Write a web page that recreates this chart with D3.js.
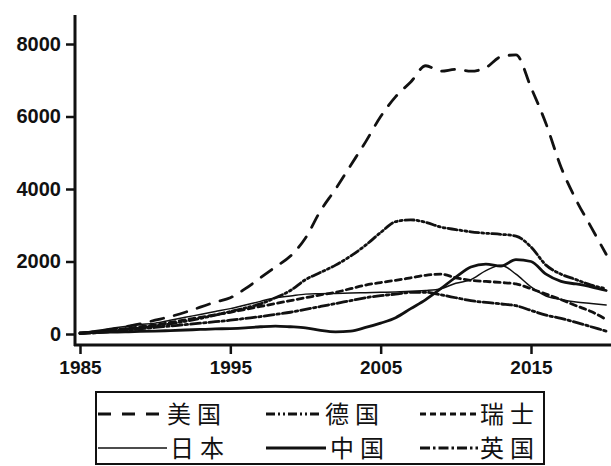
<!DOCTYPE html>
<html>
<head>
  <script src="https://d3js.org/d3.v7.min.js"></script>
  <style>
    body { margin: 0; background: #fff; overflow: hidden; }
    .tick text { font-family: "Liberation Sans", Arial, sans-serif; font-weight: bold; fill: #111; }
    .leg { font-family: "Noto Sans CJK SC", sans-serif; font-size: 24px; fill: #111; letter-spacing: 6px; }
  </style>
  <title>chart</title>
</head>
<body>
<script>
// years 1985 - 2020
const years = d3.range(1985, 2021);

const usa     = [30, 60, 120, 200, 280, 380, 480, 600, 740, 880, 1000, 1250, 1550, 1850, 2150, 2650, 3400, 4000, 4650, 5300, 6000, 6550, 6950, 7400, 7250, 7300, 7250, 7350, 7650, 7700, 6800, 5800, 4600, 3700, 2950, 2200];
const germany = [20, 50, 90, 130, 170, 220, 280, 350, 430, 520, 620, 720, 830, 1000, 1200, 1500, 1700, 1900, 2150, 2450, 2800, 3100, 3150, 3080, 2950, 2880, 2820, 2780, 2750, 2700, 2400, 1900, 1650, 1500, 1350, 1250];
const swiss   = [20, 60, 100, 150, 200, 250, 320, 390, 460, 530, 600, 680, 760, 840, 920, 1000, 1080, 1150, 1250, 1350, 1420, 1480, 1550, 1620, 1650, 1550, 1480, 1450, 1420, 1380, 1250, 1100, 950, 780, 620, 400];
const japan   = [30, 90, 150, 210, 260, 300, 380, 460, 540, 620, 700, 800, 900, 1000, 1050, 1100, 1110, 1120, 1130, 1140, 1150, 1160, 1180, 1200, 1250, 1400, 1500, 1750, 1900, 1650, 1300, 1050, 950, 880, 840, 800];
const china   = [30, 40, 50, 60, 70, 80, 95, 110, 125, 140, 150, 170, 200, 220, 200, 170, 100, 60, 80, 180, 300, 450, 700, 950, 1250, 1570, 1850, 1930, 1870, 2050, 2000, 1650, 1450, 1380, 1300, 1200];
const uk      = [10, 30, 60, 100, 140, 180, 220, 260, 300, 340, 380, 430, 480, 540, 600, 680, 760, 840, 920, 1000, 1060, 1100, 1150, 1150, 1080, 1000, 920, 870, 830, 780, 650, 520, 430, 320, 200, 80];

const yTicks = [0, 2000, 4000, 6000, 8000];
const xTicks = [1985, 1995, 2005, 2015];

const names  = ["美国", "德国", "瑞士", "日本", "中国", "英国"];

const W = 611, H = 466;

const svg = d3.select("body").append("svg")
  .attr("width", W)
  .attr("height", H);

const x = d3.scaleLinear().domain([1985, 2015]).range([80, 531]);
const y = d3.scaleLinear().domain([0, 8000]).range([334, 44]);

// line styles per series
const series = [
  { name: names[0], values: usa,     dash: "13,11",            width: 2.8 },
  { name: names[1], values: germany, dash: "9,3,2,3,2,3",      width: 2.8 },
  { name: names[2], values: swiss,   dash: "6,4",              width: 2.8 },
  { name: names[3], values: japan,   dash: null,               width: 1.5 },
  { name: names[4], values: china,   dash: null,               width: 2.8 },
  { name: names[5], values: uk,      dash: "10,3,2.5,3",       width: 2.8 }
];

const line = d3.line()
  .x((d, i) => x(years[i]))
  .y(d => y(d))
  .curve(d3.curveMonotoneX);

svg.selectAll("path.series")
  .data(series)
  .enter()
  .append("path")
  .attr("class", "series")
  .attr("d", d => line(d.values))
  .attr("fill", "none")
  .attr("stroke", "#111")
  .attr("stroke-width", d => d.width)
  .attr("stroke-dasharray", d => d.dash)
  .attr("stroke-linecap", "round");

// axes
const yAxis = svg.append("g")
  .attr("transform", "translate(75,0)")
  .call(d3.axisLeft(y).tickValues(yTicks).tickSize(9).tickPadding(5).tickFormat(d3.format("d")));
yAxis.select(".domain").remove();
yAxis.selectAll(".tick line").attr("stroke", "#111").attr("stroke-width", 2.5);
yAxis.selectAll(".tick text").style("font-size", "20px");

const xAxis = svg.append("g")
  .attr("transform", "translate(0,345)")
  .call(d3.axisBottom(x).tickValues(xTicks).tickSize(9).tickPadding(7).tickFormat(d3.format("d")));
xAxis.select(".domain").remove();
xAxis.selectAll(".tick line").attr("stroke", "#111").attr("stroke-width", 2.5);
xAxis.selectAll(".tick text").style("font-size", "19px");

svg.append("line")
  .attr("x1", 75).attr("x2", 75)
  .attr("y1", y(8800)).attr("y2", 346)
  .attr("stroke", "#111").attr("stroke-width", 3);
svg.append("line")
  .attr("x1", 74).attr("x2", W)
  .attr("y1", 345).attr("y2", 345)
  .attr("stroke", "#111").attr("stroke-width", 3);

// legend
const leg = svg.append("g");
leg.append("rect")
  .attr("x", 96).attr("y", 392)
  .attr("width", 448).attr("height", 72)
  .attr("fill", "none")
  .attr("stroke", "#111")
  .attr("stroke-width", 2);

const legPos = [
  { x1: 98,  x2: 160, tx: 167, ty: 414 },
  { x1: 266, x2: 322, tx: 325, ty: 414 },
  { x1: 420, x2: 478, tx: 480, ty: 414 },
  { x1: 98,  x2: 167, tx: 170, ty: 448 },
  { x1: 266, x2: 326, tx: 330, ty: 448 },
  { x1: 420, x2: 478, tx: 480, ty: 448 }
];

series.forEach(function (s, i) {
  const p = legPos[i];
  leg.append("line")
    .attr("x1", p.x1).attr("x2", p.x2)
    .attr("y1", p.ty).attr("y2", p.ty)
    .attr("stroke", "#111")
    .attr("stroke-width", s.width)
    .attr("stroke-dasharray", s.dash);
  leg.append("text")
    .attr("class", "leg")
    .attr("x", p.tx)
    .attr("y", p.ty)
    .attr("dy", "0.36em")
    .text(s.name);
});
</script>
</body>
</html>
